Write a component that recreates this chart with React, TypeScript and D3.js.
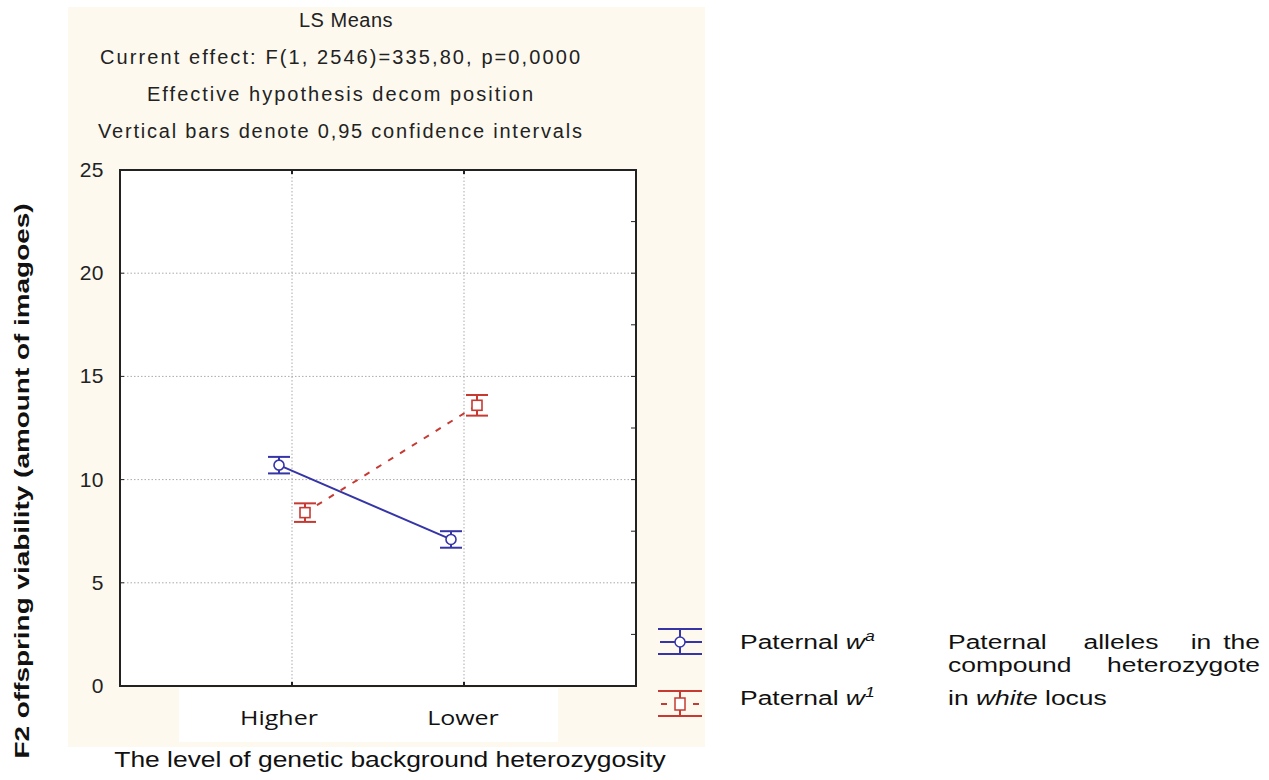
import React from "react";
import * as d3 from "d3";

const categories = ["Higher", "Lower"];
const yTicks = [0, 5, 10, 15, 20, 25];
const minorTicks = [2.5, 7.5, 12.5, 17.5, 22.5];
const titleLines = [
  "LS Means",
  "Current effect: F(1, 2546)=335,80, p=0,0000",
  "Effective hypothesis decom position",
  "Vertical bars denote 0,95 confidence intervals",
];
const titleWidths = [0, 480, 386, 484];
const waMean = [10.7, 7.1];
const waLow = [10.3, 6.7];
const waHigh = [11.1, 7.5];
const w1Mean = [8.4, 13.6];
const w1Low = [7.95, 13.1];
const w1High = [8.85, 14.1];

const BLUE = "#3535a8";
const RED = "#c63a32";

const L = 120, T = 170, R = 636, B = 686;
const SX = 1.26;

function SText(props: { x: number; y: number; sx?: number; anchor?: string; children: React.ReactNode; size?: number; bold?: boolean; rotate?: number; family?: string }) {
  const { x, y, sx = SX, anchor = "start", children, size = 21, bold, rotate = 0, family } = props;
  return (
    <text
      transform={`translate(${x},${y}) rotate(${rotate}) scale(${sx},1)`}
      textAnchor={anchor}
      fontSize={size}
      fontWeight={bold ? "bold" : undefined}
      fontFamily={family}
    >
      {children}
    </text>
  );
}

export default function App() {
  const x = d3.scalePoint<string>().domain(categories).range([L, R]).padding(1);
  const y = d3.scaleLinear().domain([0, 25]).range([B, T]);
  const off = 13;
  const labelOff = [-13, -1];
  const line = d3.line<[number, number]>().x((d) => d[0]).y((d) => d[1]);

  const series = [
    { mean: waMean, lo: waLow, hi: waHigh, color: BLUE, dx: -off, dash: undefined as string | undefined, shape: "circle" },
    { mean: w1Mean, lo: w1Low, hi: w1High, color: RED, dx: off, dash: "6,8", shape: "square" },
  ];

  const titleFont = "'Liberation Sans', Arial, sans-serif";

  return (
    <svg width={1269} height={780} style={{ position: "absolute", left: 0, top: 0, background: "#fff" }}>
      <rect x={68} y={7} width={637} height={740} fill="#fdf9ef" />
      <rect x={L} y={T} width={R - L} height={B - T} fill="#fff" />
      <rect x={179} y={688} width={379} height={54} fill="#fff" />
      {titleLines.map((t, i) => (
        <text
          key={i}
          x={i === 0 ? 346 : 340}
          y={27 + i * 37}
          textAnchor="middle"
          fontFamily={titleFont}
          fontSize={20}
          fill="#222"
          textLength={titleWidths[i] > 0 ? titleWidths[i] : undefined}
          lengthAdjust={titleWidths[i] > 0 ? "spacing" : undefined}
          letterSpacing={i === 0 ? 0.5 : undefined}
        >
          {t}
        </text>
      ))}
      {/* grid */}
      {yTicks.filter((v) => v > 0 && v < 25).map((v) => (
        <line key={v} x1={L} x2={R} y1={y(v)} y2={y(v)} stroke="#aaa" strokeDasharray="1.5,2" />
      ))}
      {categories.map((c) => (
        <line key={c} x1={x(c)} x2={x(c)} y1={T} y2={B} stroke="#aaa" strokeDasharray="1.5,2" />
      ))}
      {/* ticks */}
      {yTicks.map((v) => (
        <g key={v}>
          <line x1={L} x2={L + 4} y1={y(v)} y2={y(v)} stroke="#222" />
          <line x1={R} x2={R - 5} y1={y(v)} y2={y(v)} stroke="#222" />
          <text x={104} y={y(v) + 7} textAnchor="end" fontFamily={titleFont} fontSize={21} fill="#222" letterSpacing={0.5}>
            {v}
          </text>
        </g>
      ))}
      {minorTicks.map((v) => (
        <line key={v} x1={R} x2={R - 5} y1={y(v)} y2={y(v)} stroke="#222" />
      ))}
      <g fill="#111">
        {categories.map((c, i) => (
          <g key={c}>
            <line x1={x(c)} x2={x(c)} y1={T} y2={T + 4} stroke="#222" strokeWidth={2} />
            <line x1={x(c)} x2={x(c)} y1={B} y2={B - 4} stroke="#222" strokeWidth={2} />
            <SText x={(x(c) as number) + labelOff[i]} y={725} anchor="middle" size={20} sx={1.25} family="'Open Sans', sans-serif">
              {c}
            </SText>
          </g>
        ))}
      </g>
      {/* series */}
      {series.map((s, si) => {
        const pts: [number, number][] = categories.map((c, i) => [(x(c) as number) + s.dx, y(s.mean[i])]);
        return (
          <g key={si}>
            <path d={line(pts) ?? ""} fill="none" stroke={s.color} strokeWidth={2} strokeDasharray={s.dash} />
            {categories.map((c, i) => {
              const cx = (x(c) as number) + s.dx;
              return (
                <g key={c} stroke={s.color} strokeWidth={2}>
                  <line x1={cx} x2={cx} y1={y(s.lo[i])} y2={y(s.hi[i])} />
                  <line x1={cx - 11} x2={cx + 11} y1={y(s.lo[i])} y2={y(s.lo[i])} />
                  <line x1={cx - 11} x2={cx + 11} y1={y(s.hi[i])} y2={y(s.hi[i])} />
                  {s.shape === "circle" ? (
                    <circle cx={cx} cy={y(s.mean[i])} r={5} fill="#fff" strokeWidth={1.6} />
                  ) : (
                    <rect x={cx - 5} y={y(s.mean[i]) - 5} width={10} height={10} fill="#fff" strokeWidth={1.6} />
                  )}
                </g>
              );
            })}
          </g>
        );
      })}
      <rect x={L} y={T} width={R - L} height={B - T} fill="none" stroke="#222" strokeWidth={2} />
      {/* legend glyphs */}
      {series.map((s, si) => {
        const cy = si === 0 ? 642 : 704;
        const cx = 680;
        return (
          <g key={si} stroke={s.color} strokeWidth={2}>
            <line x1={658} x2={702} y1={cy - 13} y2={cy - 13} />
            <line x1={658} x2={702} y1={cy + 12} y2={cy + 12} />
            <line x1={cx} x2={cx} y1={cy - 13} y2={cy + 12} />
            {s.shape === "circle" ? (
              <>
                <line x1={660} x2={702} y1={cy} y2={cy} />
                <circle cx={cx} cy={cy} r={5} fill="#fff" strokeWidth={1.5} />
              </>
            ) : (
              <>
                <line x1={661} x2={667} y1={cy} y2={cy} />
                <line x1={693} x2={699} y1={cy} y2={cy} />
                <rect x={cx - 5} y={cy - 6} width={10} height={12} fill="#fff" strokeWidth={1.5} />
              </>
            )}
          </g>
        );
      })}
      <g fontFamily="'Liberation Sans', Arial, sans-serif" fill="#111">
        <SText x={740} y={649}>
          Paternal <tspan fontStyle="italic">w</tspan>
          <tspan fontStyle="italic" fontSize={14} dy={-8}>a</tspan>
        </SText>
        <SText x={740} y={705}>
          Paternal <tspan fontStyle="italic">w</tspan>
          <tspan fontStyle="italic" fontSize={14} dy={-8}>1</tspan>
        </SText>
        <SText x={948} y={649}>Paternal</SText>
        <SText x={1121} y={649} anchor="middle">alleles</SText>
        <SText x={1201} y={649} anchor="middle">in</SText>
        <SText x={1260} y={649} anchor="end">the</SText>
        <SText x={948} y={672}>compound</SText>
        <SText x={1260} y={672} anchor="end">heterozygote</SText>
        <SText x={948} y={705}>
          in <tspan fontStyle="italic">white</tspan> locus
        </SText>
        <SText x={390} y={767} anchor="middle" size={22} sx={1.2}>
          The level of genetic background heterozygosity
        </SText>
        <SText x={29} y={481} anchor="middle" bold size={21} sx={1.33} rotate={-90}>
          F2 offspring viability (amount of imagoes)
        </SText>
      </g>
    </svg>
  );
}
